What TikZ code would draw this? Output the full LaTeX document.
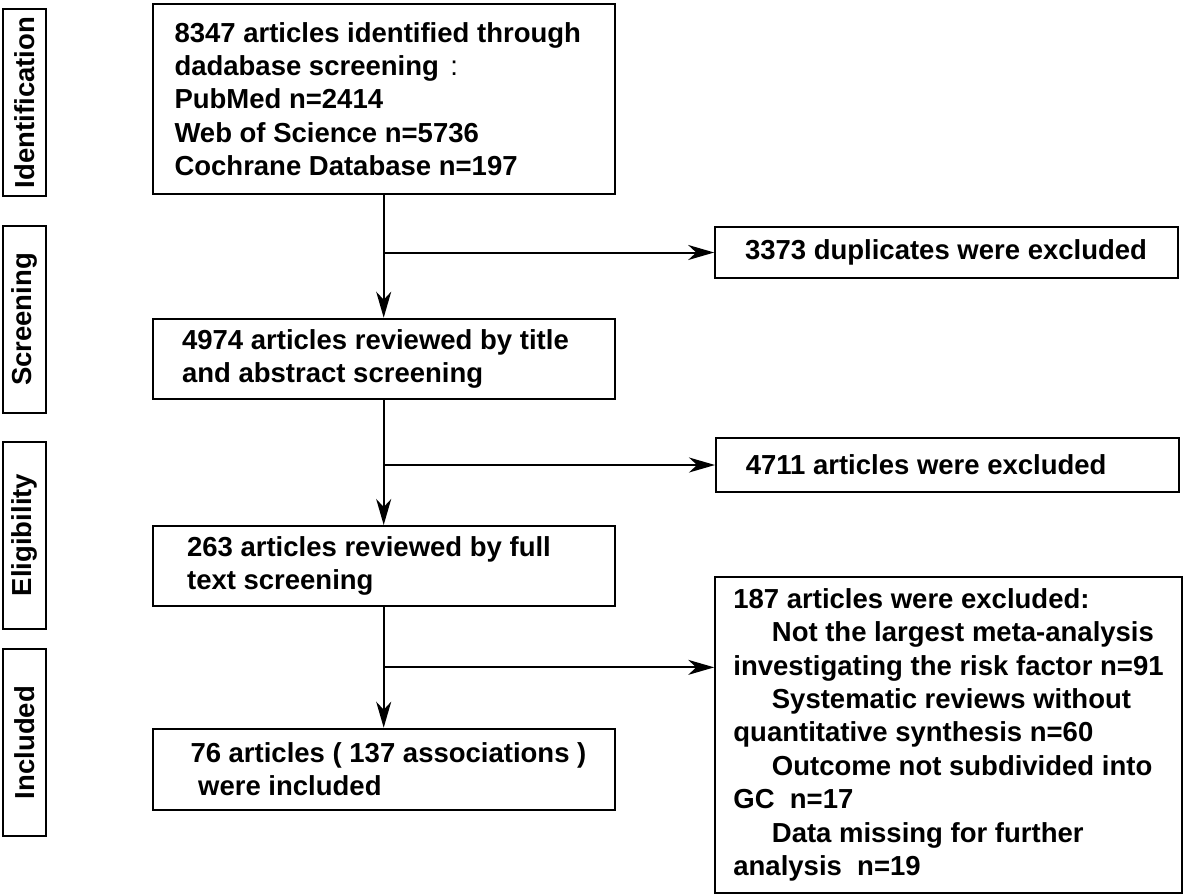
\documentclass[tikz,border=0pt]{standalone}
\usepackage{fontspec}
\setmainfont{Liberation Sans}
\usepackage{tikz}
\usetikzlibrary{positioning, calc, arrows.meta}
\newcommand{\flowfont}{\fontsize{13.75}{16.7}\selectfont\bfseries}
\tikzset{
	frame/.style={draw, line width=1pt, inner sep=0pt, anchor=north west},
	stage/.style={draw, line width=1pt, rotate=90, inner sep=0pt, minimum width=93.5pt, minimum height=21.5pt, font=\flowfont},
	txt/.style={anchor=west, align=left, inner sep=0pt, font=\flowfont},
	flow/.style={line width=1pt, -{Stealth[length=13pt, width=7.5pt, inset=4pt]}}
}

\begin{document}
\begin{tikzpicture}[x=0.5pt, y=-0.5pt]
		\useasboundingbox (0,0) rectangle (1185,895);
		\node[stage] (idf) at (24.5,102.5) {Identification};
		\node[stage] (scr) at (24.5,319.5) {Screening};
		\node[stage] (elg) at (24.5,535) {Eligibility};
		\node[stage] (inc) at (24.5,742.5) {Included};
		\node[frame, minimum width=231.2pt, minimum height=94.7pt] (b1) at (151.5,3.3) {};
		\node[frame, minimum width=231.2pt, minimum height=40pt] (b2) at (151.5,317.7) {};
		\node[frame, minimum width=231.2pt, minimum height=40pt] (b3) at (151.5,525) {};
		\node[frame, minimum width=231.2pt, minimum height=40.5pt] (b4) at (151.5,727.7) {};
		\node[frame, minimum width=231.2pt, minimum height=25.8pt] (e1) at (714.2,225.7) {};
		\node[frame, minimum width=231.5pt, minimum height=27.3pt] (e2) at (715,436.7) {};
		\node[frame, minimum width=233.5pt, minimum height=158pt] (e3) at (714.2,575.7) {};
		\node[txt] (t1) at ([xshift=11.3pt]b1.west) {8347 articles identified through\\dadabase screening\hspace{.42em}{\mdseries :}\\PubMed n=2414\\Web of Science n=5736\\Cochrane Database n=197};
		\node[txt] (t2) at ([xshift=15.1pt]b2.west) {4974 articles reviewed by title\\and abstract screening};
		\node[txt] (t3) at ([xshift=17.6pt]b3.west) {263 articles reviewed by full\\text screening};
		\node[txt] (t4) at ([xshift=19.3pt]b4.west) {76 articles ( 137 associations )\\\hspace*{.28em}were included};
		\node[txt] (s1) at ([xshift=15.2pt]e1.west) {3373 duplicates were excluded};
		\node[txt] (s2) at ([xshift=15.2pt]e2.west) {4711 articles were excluded};
		\node[txt] (s3) at ([xshift=9.4pt]e3.west) {187 articles were excluded:\\\hspace*{1.4em}Not the largest meta-analysis\\investigating the risk factor n=91\\\hspace*{1.4em}Systematic reviews without\\quantitative synthesis n=60\\\hspace*{1.4em}Outcome not subdivided into\\GC\ \ n=17\\\hspace*{1.4em}Data missing for further\\analysis\ \ n=19};
		\coordinate (k1) at (b1.south |- e1.west);
		\coordinate (k2) at (b2.south |- e2.west);
		\coordinate (k3) at ($(b3.south)!0.5!(b4.north)$);
		\draw[flow] (b1.south) -- (b2.north);
		\draw[flow] (b2.south) -- (b3.north);
		\draw[flow] (b3.south) -- (b4.north);
		\draw[flow] (k1) -- (k1 -| e1.west);
		\draw[flow] (k2) -- (k2 -| e2.west);
		\draw[flow] (k3) -- (k3 -| e3.west);
\end{tikzpicture}
\end{document}
